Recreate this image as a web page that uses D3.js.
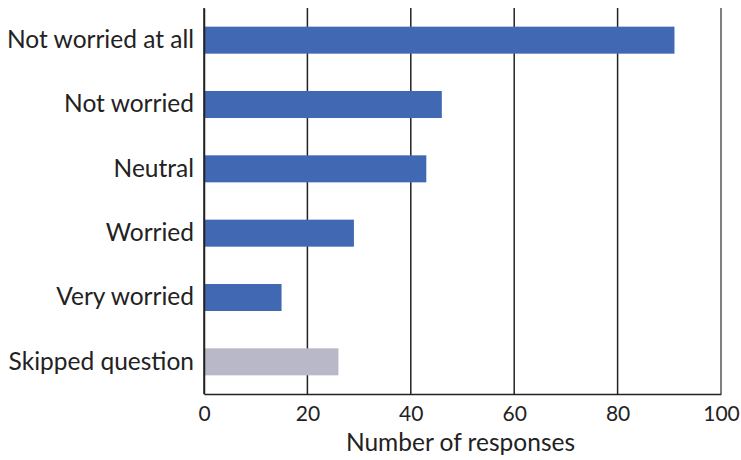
<!DOCTYPE html>
<html><head><meta charset="utf-8">
<script src="https://cdn.jsdelivr.net/npm/d3@7"></script>
<style>body{margin:0;background:#fff}text{font-family:Lato,"Open Sans",sans-serif;fill:#222}</style>
</head><body>
<svg id="c" width="741" height="460"></svg>
<script>
const categories = ["Not worried at all","Not worried","Neutral","Worried","Very worried","Skipped question"];
const values = [91,46,43,29,15,26];
const barColors = ["#4169B3","#4169B3","#4169B3","#4169B3","#4169B3","#B9B8C9"];
const xTicks = [0,20,40,60,80,100];
const xTitle = "Number of responses";

const svg = d3.select("#c");
const m = {left:204, right:20, top:8, bottom:66};
const W = 741, H = 460;
const x = d3.scaleLinear().domain([0,100]).range([m.left, W - m.right]);
const y = d3.scaleBand().domain(categories).range([m.top, H - m.bottom]).paddingInner(0.58).paddingOuter(0.29);

// gridlines
svg.append("g").selectAll("line").data(xTicks).join("line")
  .attr("x1", d=>x(d)).attr("x2", d=>x(d))
  .attr("y1", m.top).attr("y2", H - m.bottom)
  .attr("stroke", d=> d===100 ? "#555" : "#222").attr("stroke-width", 1.5);

// bars
svg.append("g").selectAll("rect").data(categories).join("rect")
  .attr("x", x(0)).attr("y", d=>y(d))
  .attr("width", (d,i)=>x(values[i]) - x(0))
  .attr("height", y.bandwidth())
  .attr("fill", (d,i)=>barColors[i]);

// bottom axis
const xa = svg.append("g").attr("transform", `translate(0,${H - m.bottom})`)
  .call(d3.axisBottom(x).tickValues(xTicks).tickSize(0).tickPadding(12));
xa.select(".domain").attr("stroke","#222").attr("stroke-width",1.5);
xa.selectAll("text").style("font-size","21px").style("font-family","Lato,'Open Sans',sans-serif").attr("fill","#222");

// left axis
const ya = svg.append("g").attr("transform", `translate(${m.left},0)`)
  .call(d3.axisLeft(y).tickSize(0).tickPadding(10));
ya.select(".domain").attr("stroke","#222").attr("stroke-width",1.5);
ya.selectAll("text").style("font-size","24.5px").style("font-family","Lato,'Open Sans',sans-serif").attr("fill","#222");

svg.append("text").attr("x", (x(0)+x(100))/2 - 2).attr("y", 451)
  .attr("text-anchor","middle").style("font-size","24.5px").text(xTitle);
</script>
</body></html>
